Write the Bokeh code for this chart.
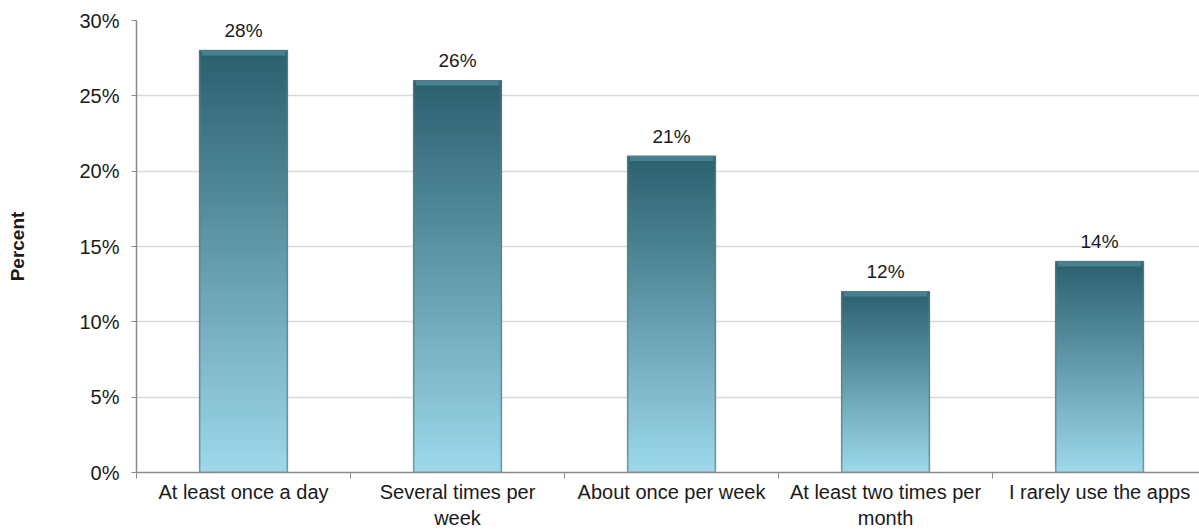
from bokeh.plotting import figure
from bokeh.models import ColumnDataSource, FixedTicker, PrintfTickFormatter, Range1d
from bokeh.core.properties import value
from bokeh.embed import file_html
from bokeh.resources import INLINE

# Survey answers: how often the apps are used
categories = [
    "At least once a day",
    "Several times per\nweek",
    "About once per week",
    "At least two times per\nmonth",
    "I rarely use the apps",
]
percent = [28, 26, 21, 12, 14]
y_ticks = [0, 5, 10, 15, 20, 25, 30]

FONT = "Liberation Sans"
TOP_RGB = (42, 95, 110)
BOTTOM_RGB = (157, 217, 235)
BAR_W = 0.41
STEPS = 80


def blend(t):
    # t = 0 at the bottom of a bar, 1 at its top
    r, g, b = (round(lo + (hi - lo) * t) for lo, hi in zip(BOTTOM_RGB, TOP_RGB))
    return f"#{r:02x}{g:02x}{b:02x}"


centers = [i + 0.5 for i in range(len(categories))]

# Vertical gradient for every bar: each slice runs from its own level up to the
# bar top, drawn bottom first, so later slices overlap and leave no seams
sl = dict(left=[], right=[], bottom=[], top=[], color=[])
for k in range(STEPS):
    for c, v in zip(centers, percent):
        sl["left"].append(c - BAR_W / 2)
        sl["right"].append(c + BAR_W / 2)
        sl["bottom"].append(v * k / STEPS)
        sl["top"].append(v)
        sl["color"].append(blend((k + 0.5) / STEPS))

bars = ColumnDataSource(dict(
    x=centers,
    top=percent,
    bevel=[v - 0.32 for v in percent],
    label=[f"{v}%" for v in percent],
))

p = figure(
    width=1199, height=531,
    x_range=Range1d(0, 4.967), y_range=Range1d(0, 30),
    output_backend="svg", toolbar_location=None,
    min_border_left=136, min_border_right=0,
    min_border_top=20, min_border_bottom=59,
)
p.outline_line_color = None
p.background_fill_color = "white"

p.quad(left="left", right="right", bottom="bottom", top="top",
       fill_color="color", line_color=None,
       source=ColumnDataSource(sl))

# lighter bevel along each bar's top edge
p.vbar(x="x", bottom="bevel", top="top", width=BAR_W - 0.02,
       fill_color="#4a8797", fill_alpha=0.85, line_color=None, source=bars)

# soft dark edge round each bar
p.vbar(x="x", top="top", width=BAR_W, fill_color=None,
       line_color="#5b7f89", line_alpha=0.75, line_width=1.6, source=bars)

p.text(x="x", y="top", text="label", source=bars,
       text_align="center", text_baseline="alphabetic", y_offset=-20,
       text_font=value(FONT), text_font_size="19px", text_color="#1a1a1a")

# y axis
p.yaxis.ticker = FixedTicker(ticks=y_ticks)
p.yaxis.formatter = PrintfTickFormatter(format="%d%%")
p.yaxis.axis_label = "Percent"
p.yaxis.axis_label_text_font = FONT
p.yaxis.axis_label_text_font_style = "bold"
p.yaxis.axis_label_text_font_size = "19px"
p.yaxis.axis_label_text_color = "#1a1a1a"
p.yaxis.axis_label_standoff = 48
p.yaxis.major_label_text_font = FONT
p.yaxis.major_label_text_font_size = "20px"
p.yaxis.major_label_text_color = "#1a1a1a"
p.yaxis.major_label_standoff = 12
p.yaxis.major_tick_in = 0
p.yaxis.major_tick_out = 5
p.yaxis.minor_tick_line_color = None
p.yaxis.axis_line_color = "#8a8a8a"
p.yaxis.major_tick_line_color = "#8a8a8a"
p.yaxis.axis_line_width = 1.5

# x axis: labels at category centres, small ticks on the boundaries
p.xaxis.ticker = FixedTicker(ticks=centers,
                             minor_ticks=list(range(len(categories) + 1)))
p.xaxis.major_label_overrides = {c: name for c, name in zip(centers, categories)}
p.xaxis.major_tick_line_color = None
p.xaxis.major_tick_out = 0
p.xaxis.major_tick_in = 0
p.xaxis.minor_tick_out = 6
p.xaxis.minor_tick_in = 0
p.xaxis.minor_tick_line_color = "#8a8a8a"
p.xaxis.axis_line_color = "#8a8a8a"
p.xaxis.axis_line_width = 1.5
p.xaxis.major_label_text_font = FONT
p.xaxis.major_label_text_font_size = "20px"
p.xaxis.major_label_text_color = "#1a1a1a"
p.xaxis.major_label_standoff = 2
p.xaxis.major_label_text_line_height = 1.2

p.xgrid.grid_line_color = None
p.ygrid.ticker = FixedTicker(ticks=y_ticks)
p.ygrid.grid_line_color = "#d9d9d9"
p.ygrid.grid_line_width = 1.5

open("out.html", "w").write(file_html(p, INLINE))
